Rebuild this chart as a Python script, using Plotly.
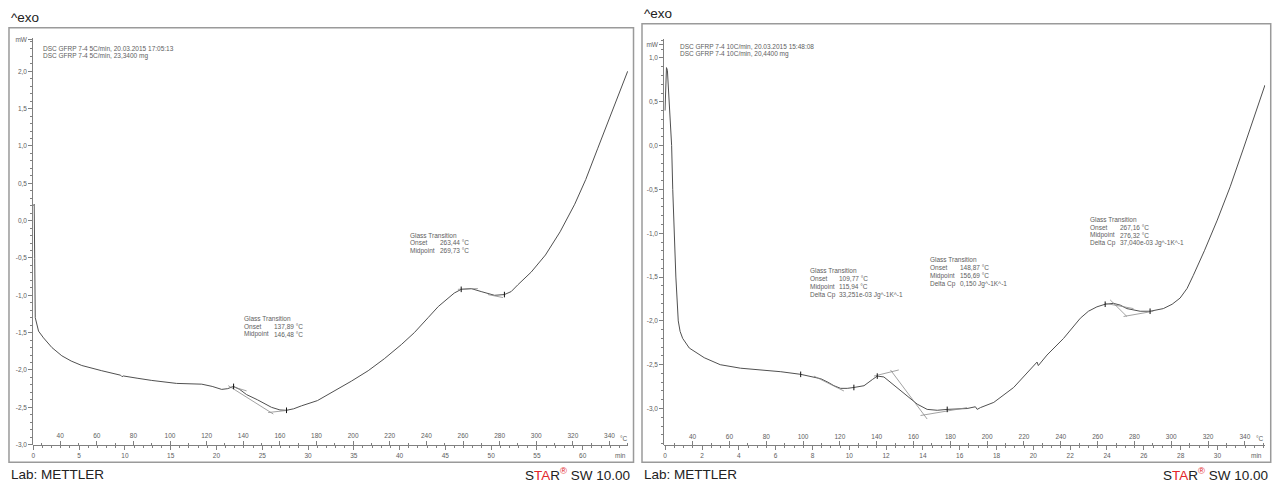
import plotly.graph_objects as go

W, H = 1284, 487

# ---------------- data: left run (DSC GFRP 7-4 5C/min) ----------------
left_T = [25.3, 25.8, 26.1, 26.4, 28.2, 30.9, 35.5, 40.9, 46.0, 51.8, 62.7, 70.0, 73.0, 73.8, 74.5,
          82.0, 90.0, 103.6, 117.3, 123.0, 128.2, 131.5, 134.7, 138.0, 141.8, 147.8, 155.4, 160.0,
          163.6, 167.5, 171.8, 180.5, 190.0, 199.0, 208.2, 217.0, 226.3, 233.4, 240.9, 246.5, 251.8,
          255.2, 259.0, 264.5, 269.9, 273.7, 277.2, 282.6, 286.3, 289.9, 293.5, 297.2, 305.0, 313.0,
          321.0, 327.0, 333.6, 341.5, 349.9]
left_mW = [0.20, 0.22, -0.51, -1.30, -1.48, -1.57, -1.70, -1.81, -1.88, -1.94, -2.01, -2.05, -2.07, -2.09, -2.08,
           -2.11, -2.14, -2.18, -2.19, -2.22, -2.26, -2.25, -2.22, -2.26, -2.33, -2.40, -2.50, -2.535,
           -2.54, -2.52, -2.48, -2.41, -2.28, -2.15, -2.01, -1.85, -1.66, -1.50, -1.30, -1.15, -1.04,
           -0.97, -0.92, -0.91, -0.95, -0.98, -1.00, -0.99, -0.95, -0.86, -0.78, -0.69, -0.46, -0.15,
           0.22, 0.55, 0.97, 1.47, 2.00]
left_tangents = [((131.8, -2.21), (156.4, -2.59)), ((133.6, -2.22), (141.8, -2.28)),
                 ((153.6, -2.57), (164.5, -2.54)), ((257.2, -0.92), (268.1, -0.91)),
                 ((273.6, -0.99), (281.8, -1.03))]
left_marks_T = [134.7, 163.6, 259.0, 282.6]
left_marks_mW = [-2.22, -2.54, -0.92, -0.99]
left_rate = 5.0      # K/min
left_T0 = 25.35

# ---------------- data: right run (DSC GFRP 7-4 10C/min) ----------------
right_T = [25.0, 25.4, 25.8, 26.3, 27.0, 27.9, 28.6, 29.2, 30.0, 30.9, 32.2, 33.2, 34.6, 38.2, 46.3,
           55.0, 66.0, 77.0, 87.9, 98.7, 109.6, 113.5, 116.8, 120.4, 124.0, 127.6, 133.1, 137.6, 140.3,
           143.9, 149.3, 156.6, 162.0, 167.4, 172.9, 178.3, 189.1, 193.6, 194.6, 196.3, 203.6, 214.4,
           225.3, 227.1, 227.8, 232.5, 241.5, 250.6, 255.0, 259.6, 264.1, 268.6, 272.3, 275.9, 283.1,
           288.5, 295.7, 300.5, 304.8, 308.6, 312.0, 318.0, 325.0, 332.0, 339.1, 345.0, 350.9]
right_mW = [0.40, 0.80, 0.89, 0.86, 0.62, 0.29, 0.0, -0.50, -1.00, -1.50, -2.00, -2.12, -2.20, -2.31, -2.42,
            -2.50, -2.54, -2.56, -2.58, -2.61, -2.66, -2.70, -2.74, -2.77, -2.77, -2.76, -2.74, -2.67, -2.63,
            -2.64, -2.73, -2.86, -2.95, -3.01, -3.02, -3.01, -3.00, -2.98, -3.01, -2.99, -2.93, -2.76,
            -2.52, -2.47, -2.51, -2.39, -2.20, -1.97, -1.89, -1.84, -1.81, -1.80, -1.82, -1.86, -1.89,
            -1.89, -1.86, -1.81, -1.74, -1.63, -1.48, -1.20, -0.85, -0.47, -0.04, 0.33, 0.69]
right_tangents = [((105.9, -2.63), (122.2, -2.80)), ((147.5, -2.56), (167.4, -3.12)),
                  ((138.5, -2.63), (152.0, -2.56)), ((163.8, -3.08), (189.1, -2.99)),
                  ((266.8, -1.76), (275.9, -1.95)), ((274.1, -1.95), (290.3, -1.89)),
                  ((264.1, -1.80), (279.5, -1.86))]
right_marks_T = [98.7, 127.6, 140.3, 178.3, 264.1, 288.5]
right_marks_mW = [-2.61, -2.76, -2.63, -3.01, -1.81, -1.89]
right_rate = 10.0
right_T0 = 25.1

# ---------------- tick labels ----------------
temp_ticks = list(range(40, 341, 20))
left_time_ticks = list(range(0, 61, 5))
right_time_ticks = list(range(0, 31, 2))
left_y_vals = [-3.0, -2.5, -2.0, -1.5, -1.0, -0.5, 0.0, 0.5, 1.0, 1.5, 2.0, 2.42]
left_y_text = ["-3,0", "-2,5", "-2,0", "-1,5", "-1,0", "-0,5", "0,0", "0,5", "1,0", "1,5", "2,0", "mW"]
right_y_vals = [-3.0, -2.5, -2.0, -1.5, -1.0, -0.5, 0.0, 0.5, 1.0, 1.15]
right_y_text = ["-3,0", "-2,5", "-2,0", "-1,5", "-1,0", "-0,5", "0,0", "0,5", "1,0", "mW"]

left_header = ["DSC GFRP 7-4 5C/min, 20.03.2015 17:05:13", "DSC GFRP 7-4 5C/min, 23,3400 mg"]
right_header = ["DSC GFRP 7-4 10C/min, 20.03.2015 15:48:08", "DSC GFRP 7-4 10C/min, 20,4400 mg"]

left_results = [
    [("Glass Transition", ""), ("Onset", "137,89 °C"), ("Midpoint", "146,48 °C")],
    [("Glass Transition", ""), ("Onset", "263,44 °C"), ("Midpoint", "269,73 °C")],
]
right_results = [
    [("Glass Transition", ""), ("Onset", "109,77 °C"), ("Midpoint", "115,94 °C"),
     ("Delta Cp", "33,251e-03 Jg^-1K^-1")],
    [("Glass Transition", ""), ("Onset", "148,87 °C"), ("Midpoint", "156,69 °C"),
     ("Delta Cp", "0,150 Jg^-1K^-1")],
    [("Glass Transition", ""), ("Onset", "267,16 °C"), ("Midpoint", "276,32 °C"),
     ("Delta Cp", "37,040e-03 Jg^-1K^-1")],
]

# ---------------- layout geometry (pixels) ----------------
LEFT_PLOT = dict(x0=31.3, x1=627.0, ytop=37.0, ybot=447.7, xr=[25.3, 350.1], yr=[-3.005, 2.45])
RIGHT_PLOT = dict(x0=663.3, x1=1265.1, ytop=38.0, ybot=448.0, xr=[24.6, 351.0], yr=[-3.42, 1.22])
left_result_pos = [(240, 320, 270), (407, 236, 437)]
right_result_pos = [(807, 272, 836), (927, 261, 957), (1088, 220, 1118)]

GRAY = "#808080"
TXT = "#5e5e5e"
CURVE = "#505050"
FAM = "Liberation Sans, Arial, sans-serif"


def small():
    return dict(family=FAM, size=6.5, color=TXT)


BIG = dict(family=FAM, size=13.5, color="#222222")


def pxx(x):
    return x / W


def pxy(y):
    return 1 - y / H


fig = go.Figure()


def add_panel(T, mW, tangents, mT, mY, rate, T0, xa, xa_t, ya):
    fig.add_trace(go.Scatter(x=T, y=mW, mode="lines", line=dict(color=CURVE, width=1),
                             xaxis=xa, yaxis=ya, hoverinfo="skip", showlegend=False))
    for (a, b) in tangents:
        fig.add_trace(go.Scatter(x=[a[0], b[0]], y=[a[1], b[1]], mode="lines",
                                 line=dict(color="#8a8a8a", width=0.8),
                                 xaxis=xa, yaxis=ya, hoverinfo="skip", showlegend=False))
    fig.add_trace(go.Scatter(x=mT, y=mY, mode="markers",
                             marker=dict(symbol="line-ns", size=4, line=dict(color="#111111", width=1)),
                             xaxis=xa, yaxis=ya, hoverinfo="skip", showlegend=False))
    # same curve vs. time (invisible) so that the time axis is instantiated
    fig.add_trace(go.Scatter(x=[(t - T0) / rate for t in T], y=mW, mode="lines", opacity=0,
                             line=dict(width=0.1), xaxis=xa_t, yaxis=ya,
                             hoverinfo="skip", showlegend=False))


add_panel(left_T, left_mW, left_tangents, left_marks_T, left_marks_mW, left_rate, left_T0, "x", "x2", "y")
add_panel(right_T, right_mW, right_tangents, right_marks_T, right_marks_mW, right_rate, right_T0, "x3", "x4", "y2")


def temp_axis(P):
    # temperature scale: labels above the baseline (axis placed at the bottom, labelled on its top side)
    return dict(domain=[pxx(P["x0"]), pxx(P["x1"])], range=P["xr"], anchor="free", side="top",
                position=pxy(P["ybot"]),
                showline=True, linecolor=GRAY, linewidth=1, showgrid=False, zeroline=False,
                tickmode="array", tickvals=temp_ticks, ticktext=[str(v) for v in temp_ticks],
                ticks="outside", ticklen=4, tickcolor=GRAY, tickfont=small(),
                minor=dict(ticks="outside", ticklen=2, tickcolor=GRAY, dtick=10, tick0=0, showgrid=False))


def time_axis(P, over, anchor, T0, rate, ticks, minor_dt):
    return dict(overlaying=over, anchor=anchor, side="bottom",
                range=[(P["xr"][0] - T0) / rate, (P["xr"][1] - T0) / rate],
                showline=False, showgrid=False, zeroline=False,
                tickmode="array", tickvals=ticks, ticktext=[str(v) for v in ticks],
                ticks="outside", ticklen=4, tickcolor=GRAY, tickfont=small(),
                minor=dict(ticks="outside", ticklen=2, tickcolor=GRAY, dtick=minor_dt, tick0=0, showgrid=False))


def y_axis(P, anchor, vals, text):
    return dict(domain=[pxy(P["ybot"]), pxy(P["ytop"])], range=P["yr"], anchor=anchor,
                showline=True, linecolor=GRAY, linewidth=1, showgrid=False, zeroline=False,
                tickmode="array", tickvals=vals, ticktext=text,
                ticks="outside", ticklen=4, tickcolor=GRAY, tickfont=small(),
                minor=dict(ticks="outside", ticklen=2, tickcolor=GRAY, dtick=0.1, tick0=0, showgrid=False))


fig.update_layout(
    width=W, height=H, margin=dict(l=0, r=0, t=0, b=0),
    paper_bgcolor="white", plot_bgcolor="white", showlegend=False,
    xaxis=temp_axis(LEFT_PLOT),
    xaxis2=time_axis(LEFT_PLOT, "x", "y", left_T0, left_rate, left_time_ticks, 1),
    yaxis=y_axis(LEFT_PLOT, "x2", left_y_vals, left_y_text),
    xaxis3=temp_axis(RIGHT_PLOT),
    xaxis4=time_axis(RIGHT_PLOT, "x3", "y2", right_T0, right_rate, right_time_ticks, 0.5),
    yaxis2=y_axis(RIGHT_PLOT, "x4", right_y_vals, right_y_text),
)

shapes = []
for (x0, y0, x1, y1) in [(7, 27, 632.5, 465), (641, 23, 1270.7, 465)]:
    shapes.append(dict(type="rect", xref="paper", yref="paper", x0=pxx(x0), x1=pxx(x1),
                       y0=pxy(y1), y1=pxy(y0), line=dict(color="#9a9a9a", width=1.5)))
fig.update_layout(shapes=shapes)

ann = []


def text(x, y, s, font, xanchor="left"):
    ann.append(dict(x=pxx(x), y=pxy(y), xref="paper", yref="paper", text=s, showarrow=False,
                    xanchor=xanchor, yanchor="middle", font=font))


STAR = ("S<span style='color:#e3262b'>TA</span>R<sup><span style='color:#e3262b'>®</span></sup>"
        " SW 10.00")
for (fx0, exo_y) in [(7, 17), (641, 13)]:
    text(fx0, exo_y, "^exo", BIG)
text(7, 477, "Lab: METTLER", BIG)
text(631, 477, STAR, BIG, "right")
text(641, 477, "Lab: METTLER", BIG)
text(1270, 477, STAR, BIG, "right")

for i, line in enumerate(left_header):
    text(39, 47.5 + 8.2 * i, line, small())
for i, line in enumerate(right_header):
    text(677, 45.5 + 8.2 * i, line, small())

for block, (lx, ly, vx) in zip(left_results + right_results, left_result_pos + right_result_pos):
    for j, (lab, val) in enumerate(block):
        text(lx, ly + 8 * j, lab, small())
        if val:
            text(vx, ly + 8 * j, val, small())

# unit labels at the axis ends
text(622.7, 440.7, "°C", small(), "center")
text(619, 458.3, "min", small(), "center")
text(1260, 440.7, "°C", small(), "center")
text(1256, 458.3, "min", small(), "center")

fig.update_layout(annotations=ann)
fig.write_html("out.html")
